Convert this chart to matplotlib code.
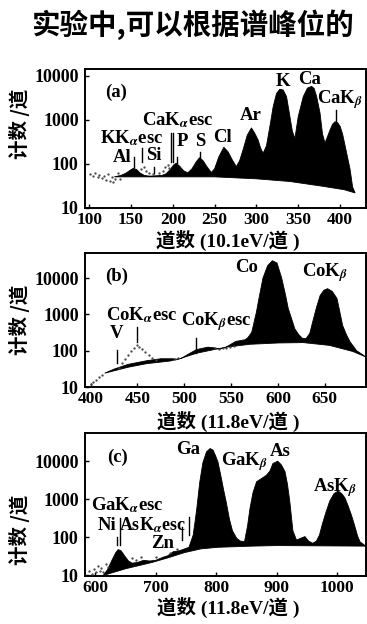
import numpy as np
import matplotlib
matplotlib.use('Agg')
import matplotlib.pyplot as plt

plt.rcParams['font.family'] = ['Liberation Serif', 'Noto Sans CJK SC']
plt.rcParams['mathtext.fontset'] = 'stix'
plt.rcParams['font.weight'] = 'bold'

# ---------------- data ----------------
title_text = "实验中,可以根据谱峰位的"
ylabel_text = "计数 /道"
xlabel_a = "道数 (10.1eV/道 )"
xlabel_b = "道数 (11.8eV/道 )"
xlabel_c = "道数 (11.8eV/道 )"

yticks = [10, 100, 1000, 10000]
ytick_labels = ["10", "100", "1000", "10000"]
xticks_a = [100, 150, 200, 250, 300, 350, 400]
xticks_b = [400, 450, 500, 550, 600, 650]
xticks_c = [600, 700, 800, 900, 1000]

# panel (a): spectrum and background
a_ch = [130, 138, 144, 149, 153, 157, 161, 166, 172, 180, 187, 192, 197, 201, 204, 208,
        213, 218, 223, 228, 232, 236, 241, 246, 250, 255, 261, 266, 271, 276, 280, 284,
        289, 294, 298, 302, 305, 308, 312, 316, 320, 324, 328, 332, 336, 340, 343, 346,
        350, 356, 361, 366, 369, 372, 376, 379, 382, 385, 388, 391, 394, 397, 400, 403,
        406, 409, 412, 415, 418]
a_counts = [51, 55, 62, 72, 80, 74, 62, 55, 53, 54, 55, 60, 75, 95, 104, 90,
            70, 63, 78, 112, 139, 120, 86, 64, 78, 145, 240, 190, 125, 87, 120, 210,
            450, 660, 500, 350, 230, 175, 260, 700, 2000, 4000, 5000, 4800, 3400, 1200, 550, 380,
            1200, 3400, 5300, 5800, 5200, 3400, 1450, 480, 300, 420, 590, 800, 910, 870, 720, 480,
            260, 140, 75, 30, 22]
a_bg_ch = [130, 180, 250, 300, 340, 380, 405, 418]
a_bg = [51, 51, 51, 46, 40, 31, 26, 22]
a_dot_ch = [101, 104, 107, 110, 112, 115, 118, 120, 123, 125, 127, 129, 131, 134, 137,
            162, 165, 168, 172, 176, 184, 188, 191, 194, 196]
a_dot_counts = [58, 53, 62, 50, 57, 47, 54, 44, 58, 41, 50, 38, 46, 62, 45,
                75, 85, 70, 62, 60, 62, 70, 85, 95, 80]

# panel (b)
b_ch = [415, 425, 440, 460, 475, 488, 492, 497, 505, 513, 525, 532, 538, 545, 555, 565,
        568, 572, 577, 580, 584, 589, 594, 599, 604, 608, 611, 615, 618, 622, 626, 630,
        634, 637, 641, 645, 649, 653, 658, 663, 666, 669, 673, 677, 684, 694]
b_counts = [24, 31, 42, 53, 60, 60, 58, 62, 82, 107, 125, 120, 110, 127, 180, 200,
            230, 320, 1150, 3000, 10000, 22000, 30000, 26000, 10000, 3500, 1450, 700, 400, 280, 220, 215,
            300, 610, 1500, 3300, 4600, 5100, 4300, 2750, 1200, 500, 280, 175, 100, 67]
b_bg_ch = [415, 440, 460, 485, 495, 513, 530, 545, 570, 600, 627, 655, 680, 694]
b_bg = [24, 35, 44, 52, 60, 85, 105, 125, 150, 163, 167, 140, 95, 67]
b_dot_ch = [400, 403, 406, 409, 412, 430, 434, 437, 440, 443, 446, 449, 452, 455, 458, 462, 466, 470,
            490, 493, 533, 537, 541, 545, 549, 553]
b_dot_counts = [12, 14, 16, 19, 22, 34, 45, 60, 78, 100, 122, 140, 125, 110, 92, 75, 62, 55,
                60, 62, 118, 112, 122, 118, 128, 135]

# panel (c)
c_ch = [613, 620, 628, 634, 638, 643, 649, 655, 661, 670, 680, 690, 700, 712, 720, 729,
        740, 748, 755, 762, 765, 768, 773, 778, 784, 790, 795, 799, 803, 808, 812, 817,
        822, 827, 834, 840, 847, 852, 856, 861, 867, 875, 883, 889, 894, 902, 908, 914,
        918, 922, 927, 933, 940, 947, 953, 960, 966, 971, 976, 982, 988, 995, 1002, 1008,
        1013, 1018, 1024, 1029, 1034, 1038, 1047]
c_counts = [10, 14, 26, 40, 48, 44, 32, 24, 21, 22, 25, 24, 25, 30, 33, 42,
            45, 50, 55, 115, 250, 570, 2900, 9000, 17500, 21500, 19500, 14000, 9600, 4000, 1900, 800,
            300, 150, 95, 80, 78, 200, 575, 1500, 2900, 3500, 4250, 5500, 8700, 10000, 8000, 5300,
            2500, 850, 150, 85, 95, 105, 80, 70, 80, 115, 230, 470, 900, 1400, 1650, 1400,
            1100, 700, 380, 210, 110, 77, 60]
c_bg_ch = [613, 650, 694, 720, 748, 775, 803, 859, 900, 1047]
c_bg = [10, 15, 22, 29, 40, 50, 55, 59, 61, 59]
c_dot_ch = [590, 594, 598, 601, 604, 607, 610, 613, 617, 621, 660, 668, 676, 700, 724, 736]
c_dot_counts = [13, 11, 15, 12, 18, 13, 16, 12, 20, 17, 28, 26, 30, 30, 38, 50]

# marker lines: (channel, low, high)
a_marks = [(154, 87, 146), (163, 111, 230), (177, 62, 85), (197.7, 111, 505), (200.5, 111, 505),
           (204.5, 105, 146), (232.4, 123, 190), (395.7, 840, 1690)]
b_marks = [(428.5, 45, 105), (449, 176, 456), (513, 86, 224)]
c_marks = [(636.4, 63, 100), (640.9, 63, 320), (743, 85, 190), (755, 115, 345)]

# ---------------- figure ----------------
W, H = 367, 624
fig = plt.figure(figsize=(W / 100, H / 100), dpi=100)


def add_ax(l, t, r, b):
    return fig.add_axes([l / W, 1 - b / H, (r - l) / W, (b - t) / H])


def style(ax, xlim, ylim, xticks):
    ax.set_yscale('log')
    ax.set_xlim(*xlim)
    ax.set_ylim(*ylim)
    ax.set_yticks(yticks)
    ax.set_yticklabels(ytick_labels)
    ax.minorticks_off()
    ax.set_xticks(xticks)
    ax.set_xticklabels([str(t) for t in xticks])
    ax.tick_params(axis='both', direction='in', length=3, width=1, color='black')
    ax.tick_params(axis='y', labelsize=13, pad=4.5)
    ax.tick_params(axis='x', labelsize=12.5, pad=2.8)
    for lab in ax.get_xticklabels() + ax.get_yticklabels():
        lab.set_fontweight('bold')
    for s in ax.spines.values():
        s.set_linewidth(1.4)


def draw(ax, ch, cnt, bch, bg, dch, dcnt, marks):
    xs = np.concatenate([ch, bch[::-1]])
    ys = np.concatenate([cnt, bg[::-1]])
    ax.fill(xs, ys, color='black', lw=0.6, zorder=2)
    ax.plot(dch, dcnt, ls='none', marker='.', ms=1.3, color='#444444', zorder=3)
    for x, lo, hi in marks:
        ax.plot([x, x], [lo, hi], color='black', lw=1.0, zorder=3)


ax_a = add_ax(85, 69, 366, 208)
ax_b = add_ax(85, 253, 366, 387)
ax_c = add_ax(85, 433, 366, 576)

style(ax_a, (95, 431), (10, 14400), xticks_a)
style(ax_b, (394, 694), (10, 49000), xticks_b)
style(ax_c, (583, 1048), (9.7, 55000), xticks_c)

draw(ax_a, np.array(a_ch), np.array(a_counts), np.array(a_bg_ch), np.array(a_bg),
     a_dot_ch, a_dot_counts, a_marks)
draw(ax_b, np.array(b_ch), np.array(b_counts), np.array(b_bg_ch), np.array(b_bg),
     b_dot_ch, b_dot_counts, b_marks)
draw(ax_c, np.array(c_ch), np.array(c_counts), np.array(c_bg_ch), np.array(c_bg),
     c_dot_ch, c_dot_counts, c_marks)


def ftext(x, y, s, size=13.5, **kw):
    fig.text(x / W, 1 - y / H, s, fontsize=size, ha='center', va='center',
             fontweight='bold', **kw)


# title
fig.text(31 / W, 1 - 25 / H, title_text, fontsize=20.5, ha='left', va='center',
         fontweight='bold', family=['Noto Sans CJK SC'])

# axis labels
for yc in (124, 320, 530):
    fig.text(19 / W, 1 - yc / H, ylabel_text, fontsize=14, rotation=90, ha='center',
             va='center', fontweight='bold', family=['Noto Sans CJK SC', 'Liberation Serif'])
for yc, s in ((240, xlabel_a), (421, xlabel_b), (607, xlabel_c)):
    fig.text(228 / W, 1 - yc / H, s, fontsize=14, ha='center', va='center',
             fontweight='bold', family=['Liberation Serif', 'Noto Sans CJK SC'])

# panel (a) labels
ftext(116, 92, '(a)')
ftext(132, 138, r'KK$_{\alpha}$esc')
ftext(122, 157, 'Al')
ftext(154, 155, 'Si')
ftext(178, 120, r'CaK$_{\alpha}$esc')
ftext(182, 141, 'P')
ftext(200, 141, 'S')
ftext(223, 138, 'Cl')
ftext(251, 115, 'Ar')
ftext(283, 81, 'K')
ftext(310, 79, 'Ca')
ftext(340, 100, r'CaK$_{\beta}$')

# panel (b) labels
ftext(117, 276, '(b)')
ftext(247, 268, 'Co')
ftext(325, 273, r'CoK$_{\beta}$')
ftext(142, 315, r'CoK$_{\alpha}$esc')
ftext(117, 333, 'V')
ftext(216, 322, r'CoK$_{\beta}$esc')

# panel (c) labels
ftext(117, 457, '(c)')
ftext(188, 450, 'Ga')
ftext(245, 462, r'GaK$_{\beta}$')
ftext(280, 451, 'As')
ftext(335, 488, r'AsK$_{\beta}$')
ftext(127, 505, r'GaK$_{\alpha}$esc')
ftext(107, 526, 'Ni')
ftext(152, 525, r'AsK$_{\alpha}$esc', size=13)
ftext(163, 543, 'Zn')

fig.savefig('out.png', dpi=100)
